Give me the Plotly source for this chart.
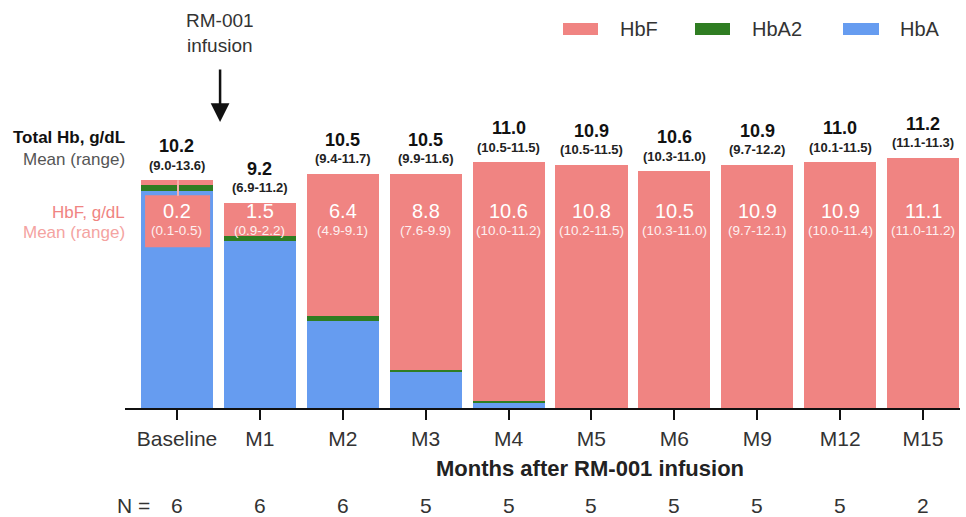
import plotly.graph_objects as go

# ---------------- data ----------------
categories = ["Baseline", "M1", "M2", "M3", "M4", "M5", "M6", "M9", "M12", "M15"]
hba = [9.7, 7.5, 3.9, 1.6, 0.25, 0, 0, 0, 0, 0]
hba2 = [0.3, 0.2, 0.2, 0.1, 0.05, 0, 0, 0, 0, 0]
hbf_seg = [0.2, 1.5, 6.4, 8.8, 10.7, 10.9, 10.6, 10.9, 11.0, 11.2]
total_mean = [10.2, 9.2, 10.5, 10.5, 11.0, 10.9, 10.6, 10.9, 11.0, 11.2]
total_range = ["(9.0-13.6)", "(6.9-11.2)", "(9.4-11.7)", "(9.9-11.6)", "(10.5-11.5)",
               "(10.5-11.5)", "(10.3-11.0)", "(9.7-12.2)", "(10.1-11.5)", "(11.1-11.3)"]
hbf_mean = [0.2, 1.5, 6.4, 8.8, 10.6, 10.8, 10.5, 10.9, 10.9, 11.1]
hbf_range = ["(0.1-0.5)", "(0.9-2.2)", "(4.9-9.1)", "(7.6-9.9)", "(10.0-11.2)",
             "(10.2-11.5)", "(10.3-11.0)", "(9.7-12.1)", "(10.0-11.4)", "(11.0-11.2)"]
n_patients = [6, 6, 6, 5, 5, 5, 5, 5, 5, 2]

# ---------------- style ----------------
PINK = "#F08482"
GREEN = "#2F7D22"
BLUE = "#669CF0"
FONT = "Liberation Sans"
W, H = 966, 517
ML, MR, MT, MB = 125, 6, 6, 109
PW, PH = W - ML - MR, H - MT - MB
YMAX = 18.0
XR = [-0.627, 9.446]


def pxx(x):
    return (x - ML) / PW


def pxy(y):
    return (H - MB - y) / PH


fig = go.Figure()
fig.add_bar(x=categories, y=hba, name="HbA", marker=dict(color=BLUE, line=dict(width=0)))
fig.add_bar(x=categories, y=hba2, name="HbA2", marker=dict(color=GREEN, line=dict(width=0)))
fig.add_bar(x=categories, y=hbf_seg, name="HbF", marker=dict(color=PINK, line=dict(width=0)))

ann = []
shapes = []

# Baseline pink label box and leader line
shapes.append(dict(type="rect", xref="x", yref="y", x0=-0.385, x1=0.40, y0=7.2, y1=9.53,
                   fillcolor=PINK, line=dict(width=0), layer="above"))
shapes.append(dict(type="line", xref="x", yref="y", x0=0.012, x1=0.012, y0=9.5, y1=total_mean[0],
                   line=dict(color="#F6B0AE", width=2), layer="above"))

for i, c in enumerate(categories):
    # total Hb mean and range above bars
    ann.append(dict(x=c, y=total_mean[i], xref="x", yref="y", text=f"<b>{total_mean[i]:.1f}</b>",
                    showarrow=False, yanchor="middle", yshift=34,
                    font=dict(family=FONT, size=18, color="#111111")))
    ann.append(dict(x=c, y=total_mean[i], xref="x", yref="y", text=f"<b>{total_range[i]}</b>",
                    showarrow=False, yanchor="middle", yshift=15,
                    font=dict(family=FONT, size=13, color="#222222")))
    # HbF mean and range inside
    ann.append(dict(x=c, y=pxy(211), xref="x", yref="paper", text=f"{hbf_mean[i]:.1f}",
                    showarrow=False, yanchor="middle",
                    font=dict(family=FONT, size=20, color="white")))
    ann.append(dict(x=c, y=pxy(231), xref="x", yref="paper", text=hbf_range[i],
                    showarrow=False, yanchor="middle",
                    font=dict(family=FONT, size=13.5, color="#FDF0F0")))
    # N row
    ann.append(dict(x=c, y=pxy(505), xref="x", yref="paper", text=str(n_patients[i]),
                    showarrow=False, yanchor="middle",
                    font=dict(family=FONT, size=21, color="#333333")))

ann.append(dict(x=pxx(152), y=pxy(505), xref="paper", yref="paper", text="N =",
                showarrow=False, xanchor="right", yanchor="middle",
                font=dict(family=FONT, size=21, color="#333333")))

# left row labels
ann.append(dict(x=pxx(127), y=pxy(138), xref="paper", yref="paper", text="<b>Total Hb, g/dL</b>",
                showarrow=False, xanchor="right", yanchor="middle",
                font=dict(family=FONT, size=17, color="#111111")))
ann.append(dict(x=pxx(127), y=pxy(159), xref="paper", yref="paper", text="Mean (range)",
                showarrow=False, xanchor="right", yanchor="middle",
                font=dict(family=FONT, size=17, color="#555555")))
ann.append(dict(x=pxx(127), y=pxy(212), xref="paper", yref="paper", text="HbF, g/dL",
                showarrow=False, xanchor="right", yanchor="middle",
                font=dict(family=FONT, size=17, color=PINK)))
ann.append(dict(x=pxx(127), y=pxy(232), xref="paper", yref="paper", text="Mean (range)",
                showarrow=False, xanchor="right", yanchor="middle",
                font=dict(family=FONT, size=17, color="#F4A3A1")))

# x-axis title
ann.append(dict(x=pxx(590), y=pxy(468), xref="paper", yref="paper",
                text="<b>Months after RM-001 infusion</b>", showarrow=False,
                xanchor="center", yanchor="middle",
                font=dict(family=FONT, size=22, color="#222222")))

# infusion marker
ann.append(dict(x=0.52, y=pxy(33), xref="x", yref="paper", text="RM-001<br>infusion",
                showarrow=False, xanchor="center", yanchor="middle",
                font=dict(family=FONT, size=19, color="#333333")))
ann.append(dict(x=0.52, y=pxy(122), xref="x", yref="paper", text="", showarrow=True,
                ax=0, ay=-54, axref="pixel", ayref="pixel",
                arrowhead=2, arrowsize=1.5, arrowwidth=2.5, arrowcolor="#111111"))

# manual legend
legend_items = [("HbF", PINK, 563, 598, 618), ("HbA2", GREEN, 695, 730, 750), ("HbA", BLUE, 843, 879, 898)]
for name, col, x0, x1, tx in legend_items:
    shapes.append(dict(type="rect", xref="paper", yref="paper", x0=pxx(x0), x1=pxx(x1),
                       y0=pxy(35), y1=pxy(23), fillcolor=col, line=dict(width=0)))
    ann.append(dict(x=pxx(tx), y=pxy(29), xref="paper", yref="paper", text=name,
                    showarrow=False, xanchor="left", yanchor="middle",
                    font=dict(family=FONT, size=20, color="#333333")))

fig.update_layout(
    width=W, height=H,
    margin=dict(l=ML, r=MR, t=MT, b=MB, pad=0),
    barmode="stack", bargap=0.13,
    plot_bgcolor="white", paper_bgcolor="white",
    showlegend=False,
    annotations=ann, shapes=shapes,
    font=dict(family=FONT),
    hovermode=False,
    xaxis=dict(
        type="category", range=XR, showgrid=False, zeroline=False,
        showline=True, linecolor="#111111", linewidth=2,
        ticks="outside", ticklen=10, tickwidth=2, tickcolor="#111111",
        tickfont=dict(family=FONT, size=21, color="#333333"),
        ticklabelstandoff=1,
    ),
    yaxis=dict(range=[0, YMAX], visible=False, showgrid=False, zeroline=False),
)

fig.write_html("out.html", config={"displayModeBar": False})
